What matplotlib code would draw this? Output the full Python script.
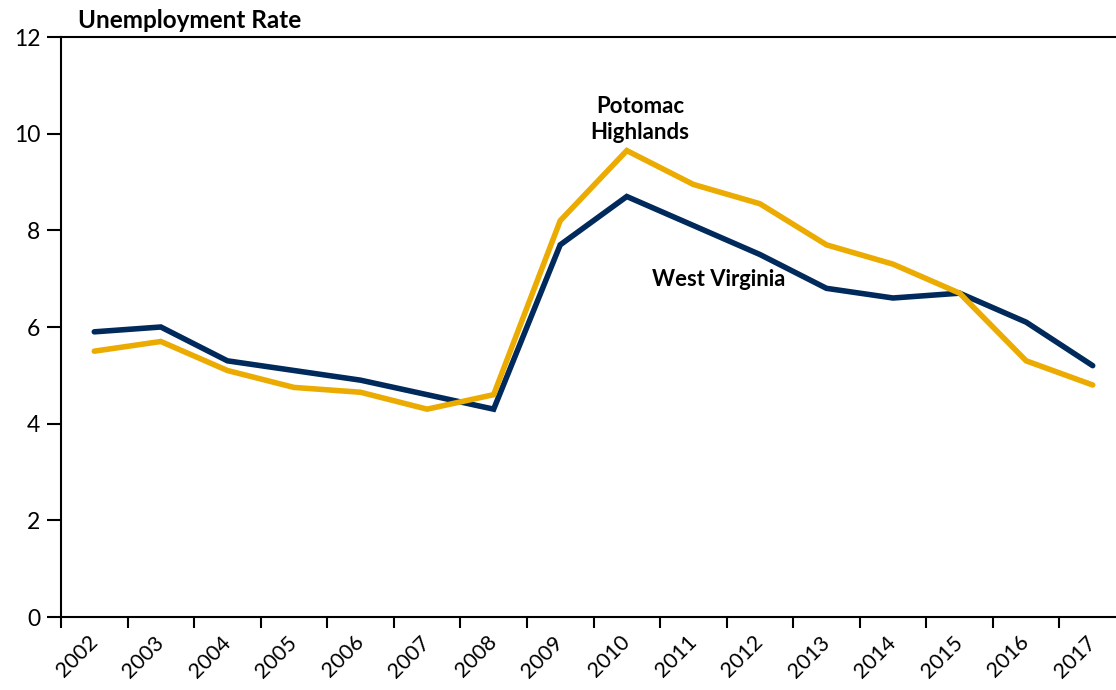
import matplotlib
matplotlib.use("Agg")
import matplotlib.pyplot as plt

plt.rcParams["font.family"] = ["Lato", "DejaVu Sans"]

years = [str(y) for y in range(2002, 2018)]
west_virginia = [5.9, 6.0, 5.3, 5.1, 4.9, 4.6, 4.3, 7.7, 8.7, 8.1, 7.5, 6.8, 6.6, 6.7, 6.1, 5.2]
potomac_highlands = [5.5, 5.7, 5.1, 4.75, 4.65, 4.3, 4.6, 8.2, 9.65, 8.95, 8.55, 7.7, 7.3, 6.7, 5.3, 4.8]

navy = "#002a5c"
gold = "#ebab00"

fig = plt.figure(figsize=(11.16, 6.9), dpi=100)
ax = fig.add_axes([61 / 1116, 73 / 690, 1065 / 1116, 580 / 690])

x = list(range(len(years)))
ax.plot(x, west_virginia, color=navy, lw=4, solid_capstyle="round", solid_joinstyle="miter")
ax.plot(x, potomac_highlands, color=gold, lw=4, solid_capstyle="round", solid_joinstyle="miter")

ax.set_xlim(-0.5, len(years) - 0.5)
ax.set_ylim(0, 12)
ax.set_yticks(range(0, 13, 2))
ax.tick_params(axis="y", labelsize=16.5, length=10, width=1.5, pad=5)

# category boundaries get the tick marks, centres get the labels
ax.set_xticks([i - 0.5 for i in range(len(years) + 1)])
ax.set_xticklabels([])
ax.tick_params(axis="x", which="major", length=8, width=1.5)
ax.set_xticks(x, minor=True)
ax.set_xticklabels(years, minor=True, rotation=45, ha="right", va="center",
                   rotation_mode="anchor", fontsize=15.5)
ax.tick_params(axis="x", which="minor", length=0, pad=16)

for side in ["left", "bottom", "top"]:
    ax.spines[side].set_linewidth(1.5)
ax.spines["right"].set_visible(False)

fig.text(78 / 1116, 1 - 21 / 690, "Unemployment Rate", fontsize=17.5, fontweight="bold",
         ha="left", va="center")
ax.text(8.2, 10.3, "Potomac\nHighlands", fontsize=16, fontweight="bold",
        ha="center", va="center", linespacing=1.3)
ax.text(9.38, 6.98, "West Virginia", fontsize=15.8, fontweight="bold",
        ha="center", va="center")

fig.savefig("out.png", dpi=100)
